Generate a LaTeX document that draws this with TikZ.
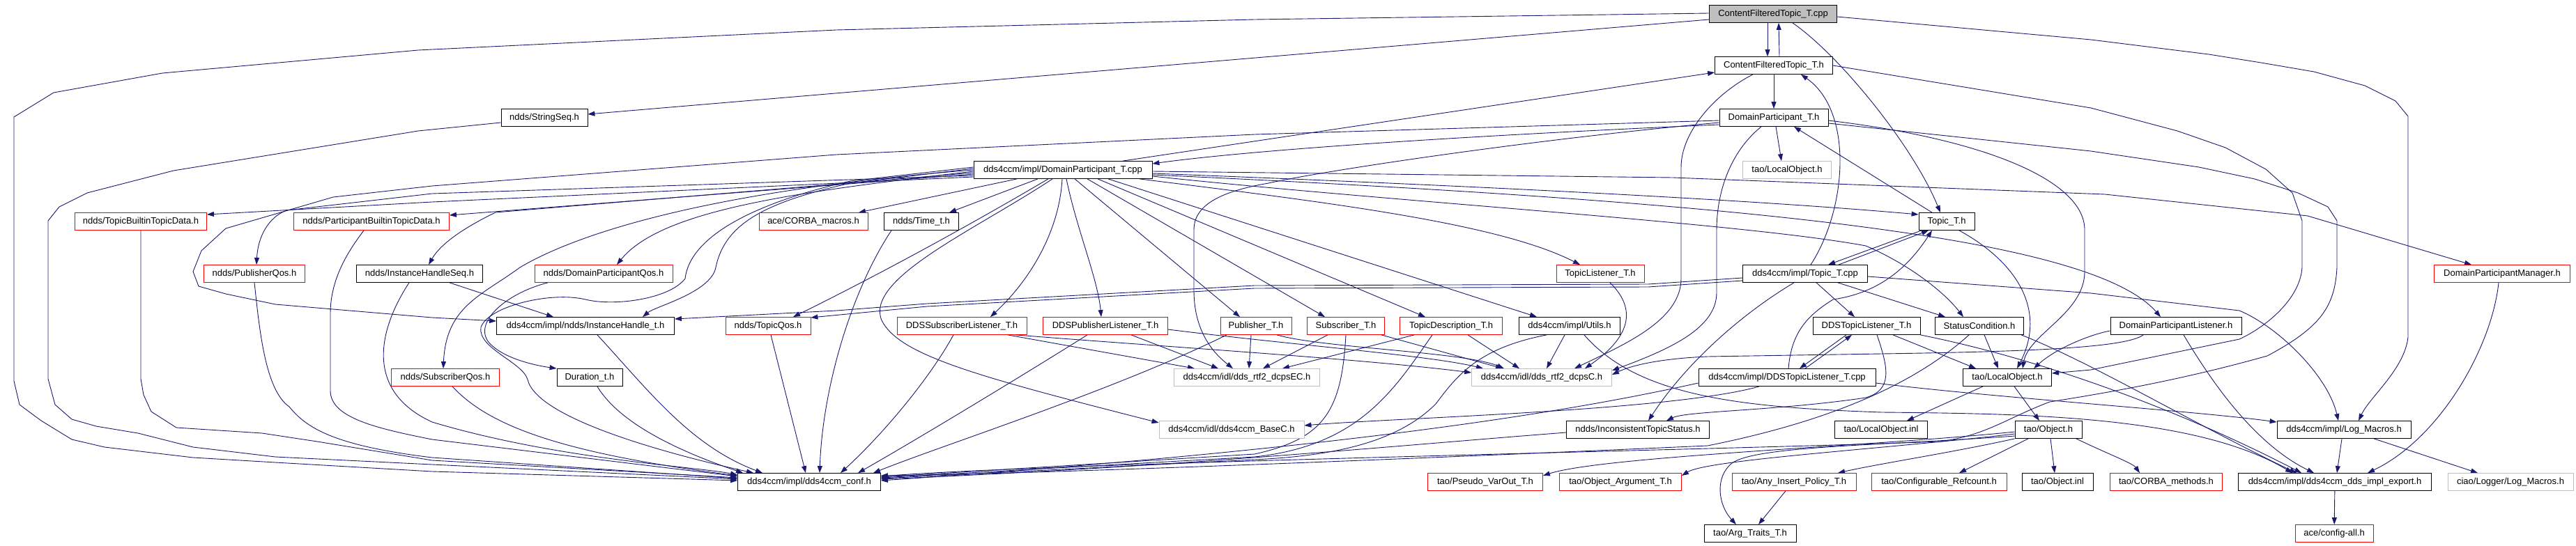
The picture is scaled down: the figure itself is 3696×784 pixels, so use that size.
\documentclass[tikz,border=0pt]{standalone}
\usepackage{fontspec}
\setmainfont{Liberation Sans}
\usetikzlibrary{arrows.meta,backgrounds}
\definecolor{edgec}{RGB}{25,25,112}
\definecolor{grayline}{RGB}{191,191,191}
\definecolor{grayfill}{RGB}{191,191,191}
\begin{document}
\begin{tikzpicture}[x=1pt,y=-1pt,
  box/.style={draw=black, line width=0.8pt, rectangle, minimum height=25pt, inner xsep=3pt, inner ysep=0pt,
     font=\fontsize{13}{15}\selectfont, text=black, fill=white},
  rbox/.style={box, draw=red},
  gbox/.style={box, draw=grayline},
  e/.style={draw=edgec, line width=0.9pt, line join=round, -{Triangle[length=10pt,width=7pt]}}]
\useasboundingbox (0,0) rectangle (3696,784);
% ---------------- nodes
\node[box, fill=grayfill, minimum width=183pt] (CFTcpp) at (2544,20) {ContentFilteredTopic\_T.cpp};
\node[box, minimum width=169pt] (CFTh) at (2545,94) {ContentFilteredTopic\_T.h};
\node[box, minimum width=124pt] (StringSeq) at (781,169) {ndds/StringSeq.h};
\node[box, minimum width=156pt] (DPh) at (2545,169) {DomainParticipant\_T.h};
\node[gbox, minimum width=127pt] (LocalObjG) at (2564,244) {tao/LocalObject.h};
\node[box, minimum width=256pt] (DPcpp) at (1525,244) {dds4ccm/impl/DomainParticipant\_T.cpp};
\node[rbox, minimum width=189pt] (TBTD) at (202,318) {ndds/TopicBuiltinTopicData.h};
\node[rbox, minimum width=223pt] (PBTD) at (533,318) {ndds/ParticipantBuiltinTopicData.h};
\node[rbox, minimum width=156pt] (CORBA) at (1167,318) {ace/CORBA\_macros.h};
\node[box, minimum width=107pt] (Time) at (1322,318) {ndds/Time\_t.h};
\node[box, minimum width=80pt] (Topich) at (2793,318) {Topic\_T.h};
\node[rbox, minimum width=145pt] (PubQos) at (365,393) {ndds/PublisherQos.h};
\node[box, minimum width=181pt] (IHSeq) at (602,393) {ndds/InstanceHandleSeq.h};
\node[rbox, minimum width=198pt] (DPQos) at (866,393) {ndds/DomainParticipantQos.h};
\node[rbox, minimum width=126pt] (TopicListener) at (2296,393) {TopicListener\_T.h};
\node[box, minimum width=179pt] (Topiccpp) at (2590,393) {dds4ccm/impl/Topic\_T.cpp};
\node[rbox, minimum width=195pt] (DPM) at (3590,393) {DomainParticipantManager.h};
\node[box, minimum width=255pt] (IHt) at (840,468) {dds4ccm/impl/ndds/InstanceHandle\_t.h};
\node[rbox, minimum width=122pt] (TopicQos) at (1102,468) {ndds/TopicQos.h};
\node[rbox, minimum width=186pt] (DDSSubL) at (1380,468) {DDSSubscriberListener\_T.h};
\node[rbox, minimum width=179pt] (DDSPubL) at (1586,468) {DDSPublisherListener\_T.h};
\node[rbox, minimum width=102pt] (Publisher) at (1802,468) {Publisher\_T.h};
\node[rbox, minimum width=111pt] (Subscriber) at (1931,468) {Subscriber\_T.h};
\node[rbox, minimum width=147pt] (TopicDesc) at (2082,468) {TopicDescription\_T.h};
\node[box, minimum width=145pt] (Utils) at (2252,468) {dds4ccm/impl/Utils.h};
\node[box, minimum width=154pt] (DDSTopicL) at (2678,468) {DDSTopicListener\_T.h};
\node[box, minimum width=127pt] (StatusCond) at (2840,468) {StatusCondition.h};
\node[box, minimum width=188pt] (DPL) at (3122,468) {DomainParticipantListener.h};
\node[rbox, minimum width=155pt] (SubQos) at (639,542) {ndds/SubscriberQos.h};
\node[box, minimum width=94pt] (Duration) at (846,542) {Duration\_t.h};
\node[gbox, minimum width=209pt] (dcpsEC) at (1789,542) {dds4ccm/idl/dds\_rtf2\_dcpsEC.h};
\node[gbox, minimum width=201pt] (dcpsC) at (2212,542) {dds4ccm/idl/dds\_rtf2\_dcpsC.h};
\node[box, minimum width=254pt] (DDSTopicLcpp) at (2564,542) {dds4ccm/impl/DDSTopicListener\_T.cpp};
\node[box, minimum width=127pt] (LocalObj) at (2880,542) {tao/LocalObject.h};
\node[gbox, minimum width=208pt] (BaseC) at (1767,617) {dds4ccm/idl/dds4ccm\_BaseC.h};
\node[box, minimum width=205pt] (ICS) at (2350,617) {ndds/InconsistentTopicStatus.h};
\node[box, minimum width=133pt] (LocalObjinl) at (2699,617) {tao/LocalObject.inl};
\node[box, minimum width=96pt] (Objecth) at (2939,617) {tao/Object.h};
\node[box, minimum width=192pt] (LogMacros) at (3363,617) {dds4ccm/impl/Log\_Macros.h};
\node[box, minimum width=205pt] (conf) at (1161,692) {dds4ccm/impl/dds4ccm\_conf.h};
\node[rbox, minimum width=165pt] (PseudoVarOut) at (2131,692) {tao/Pseudo\_VarOut\_T.h};
\node[rbox, minimum width=175pt] (ObjArg) at (2325,692) {tao/Object\_Argument\_T.h};
\node[rbox, minimum width=178pt] (AnyInsert) at (2574,692) {tao/Any\_Insert\_Policy\_T.h};
\node[rbox, minimum width=194pt] (ConfRef) at (2782,692) {tao/Configurable\_Refcount.h};
\node[box, minimum width=102pt] (Objectinl) at (2952,692) {tao/Object.inl};
\node[rbox, minimum width=161pt] (CORBAm) at (3108,692) {tao/CORBA\_methods.h};
\node[box, minimum width=277pt] (implexport) at (3350,692) {dds4ccm/impl/dds4ccm\_dds\_impl\_export.h};
\node[gbox, minimum width=180pt] (ciaoLog) at (3602,692) {ciao/Logger/Log\_Macros.h};
\node[box, minimum width=132pt] (ArgTraits) at (2511,766) {tao/Arg\_Traits\_T.h};
\node[rbox, minimum width=112pt] (configall) at (3349,766) {ace/config-all.h};
% ---------------- edges
\begin{pgfonlayer}{background}
% ContentFilteredTopic_T.cpp / .h
\draw[e] ([xshift=-8pt]CFTcpp.south) -- ([xshift=-9pt]CFTh.north);
\draw[e] ([xshift=8pt]CFTh.north) -- ([xshift=8pt]CFTcpp.south);
\draw[e] (CFTh) -- (DPh);
\draw[e] ([xshift=28pt]CFTcpp.south) .. controls (2640,80) and (2745,210) .. ([xshift=-9pt]Topich.north);
\draw[e] ([yshift=-8pt]CFTcpp.west) -- ([yshift=5pt]StringSeq.east);
\draw[e] ([yshift=1pt]CFTcpp.west) -- (1800,28) -- (1200,43) -- (600,72) -- (233,105) -- (77,133) -- (20,168) -- (20,547) -- (28,581) -- (59,604) -- (103,631) -- (150,642) -- (277,657) -- (395,664) -- (620,677) -- ([yshift=2pt]conf.west);
\draw[e] ([yshift=-4pt]CFTcpp.east) -- (3000,57) -- (3169,78) -- (3244,90) -- (3320,103) -- (3393,123) -- (3437,145) -- (3455,167) -- (3455,484) .. controls (3450,530) and (3400,570) .. ([xshift=21pt]LogMacros.north);
\draw[e] ([xshift=-30pt]CFTh.south) .. controls (2460,135) and (2412,190) .. (2412,240) -- (2412,400) .. controls (2412,460) and (2330,495) .. ([xshift=47pt]dcpsC.north);
\draw[e] (CFTh.east) -- (3000,155) -- (3124,188) -- (3193,212) -- (3251,243) -- (3289,277) -- (3303,317) -- (3303,384) .. controls (3300,430) and (3250,470) .. (3213,487) -- (3000,531) -- ([yshift=6pt]LocalObj.east);
% StringSeq
\draw[e] ([yshift=-7pt]StringSeq.west) -- (600,188) -- (249,245) -- (125,277) -- (85,297) -- (69,317) -- (69,544) -- (79,581) -- (103,602) -- (138,612) -- (198,622) -- (277,642) -- (395,656) -- (620,667) -- ([yshift=4pt]conf.west);
% DomainParticipant_T.h
\draw[e] ([yshift=-4pt]DPh.west) -- (1800,193) -- (1200,222) -- (620,267) -- (478,283) -- (324,328) -- (289,360) -- (277,390) -- (285,411) -- (324,422) -- (395,437) -- (620,456) -- ([yshift=7pt]IHt.west);
\draw[e] ([yshift=-10pt]DPh.west) .. controls (2100,195) and (1800,215) .. ([yshift=9pt]DPcpp.east);
\draw[e] ([yshift=-7pt]DPh.west) .. controls (2200,200) and (1900,245) .. (1820,263) .. controls (1750,275) and (1713,295) .. (1713,330) -- (1713,417) .. controls (1713,480) and (1745,510) .. ([xshift=-20pt]dcpsEC.north);
\draw[e] ([xshift=3pt]DPh.south) -- ([xshift=-8pt]LocalObjG.north);
\draw[e] ([xshift=-18pt]DPh.south) .. controls (2480,220) and (2463,280) .. (2463,330) -- (2463,420) .. controls (2463,470) and (2400,500) .. ([yshift=10pt]dcpsC.east);
\draw[e] ([yshift=-4pt]DPh.east) .. controls (2850,200) and (2991,260) .. (2991,330) -- (2991,390) .. controls (2991,450) and (2910,480) .. ([xshift=22pt]LocalObj.north);
\draw[e] ([yshift=-8pt]DPh.east) -- (3000,217) -- (3155,240) -- (3235,257) -- (3297,277) -- (3340,297) -- (3353,317) -- (3353,384) .. controls (3350,440) and (3330,470) .. (3253,511) .. controls (3150,540) and (3050,560) .. (2941,577) .. controls (2880,600) and (2850,625) .. (2784,634) .. controls (2500,645) and (1500,665) .. ([yshift=8pt]conf.east);
% Topic_T.h
\draw[e] ([xshift=-21pt]Topich.north) -- ([xshift=29pt]DPh.south);
\draw[e] ([xshift=-36pt]Topich.south) -- ([xshift=33pt]Topiccpp.north);
\draw[e] ([xshift=18pt]Topich.south) .. controls (2900,380) and (2935,450) .. ([xshift=14pt]LocalObj.north);
% Topic_T.cpp
\draw[e] ([xshift=48pt]Topiccpp.north) -- ([xshift=-26pt]Topich.south);
\draw[e] ([xshift=8pt]Topiccpp.north) .. controls (2650,300) and (2660,160) .. ([xshift=39pt]CFTh.south);
\draw[e] ([xshift=16pt]Topiccpp.south) -- ([xshift=-17pt]DDSTopicL.north);
\draw[e] ([xshift=47pt]Topiccpp.south) -- ([xshift=-49pt]StatusCond.north);
\draw[e] ([yshift=-6pt]Topiccpp.west) -- (2365,408) -- (1800,410) -- (1330,436) -- (1200,446) -- ([yshift=10pt]IHt.east);
\draw[e] ([yshift=-10pt]Topiccpp.west) -- (2365,412) -- (1800,414) -- (1330,440) -- ([yshift=12pt]TopicQos.east);
\draw[e] ([yshift=-4pt]Topiccpp.east) -- (3000,421) -- (3213,446) .. controls (3270,470) and (3340,540) .. ([xshift=-8pt]LogMacros.north);
\draw[e] ([xshift=-16pt]Topiccpp.south) .. controls (2500,450) and (2420,520) .. ([xshift=15pt]ICS.north);
% DomainParticipant_T.cpp
\draw[e] ([xshift=86pt]DPcpp.north) -- ([yshift=-10pt]CFTh.west);
\draw[e] ([yshift=-5pt]DPcpp.east) .. controls (2200,270) and (2550,290) .. ([yshift=10pt]Topich.west);
\draw[e] ([yshift=-2pt]DPcpp.east) -- (2400,255) -- (3020,279) -- (3311,310) -- ([xshift=-44pt]DPM.north);
\draw[e] ([yshift=-9pt]DPcpp.east) .. controls (2000,290) and (2500,320) .. (2677,353) .. controls (2740,380) and (2790,420) .. ([xshift=-23pt]StatusCond.north);
\draw[e] ([yshift=-7pt]DPcpp.east) .. controls (2500,290) and (3000,340) .. ([xshift=-22pt]DPL.north);
\draw[e] ([yshift=-10pt]DPcpp.west) -- (620,290) -- ([yshift=10pt]TBTD.east);
\draw[e] ([yshift=-6pt]DPcpp.west) -- ([yshift=9pt]PBTD.east);
\draw[e] ([yshift=-8pt]DPcpp.west) -- (620,278) -- (411,302) .. controls (385,312) and (370,340) .. ([xshift=3pt]PubQos.north);
\draw[e] ([yshift=-4pt]DPcpp.west) -- (711,305) .. controls (680,320) and (635,345) .. ([xshift=13pt]IHSeq.north);
\draw[e] ([yshift=-2pt]DPcpp.west) .. controls (1150,275) and (950,300) .. ([xshift=19pt]DPQos.north);
\draw[e] (DPcpp.west) .. controls (1000,275) and (820,340) .. (746,384) .. controls (690,425) and (640,440) .. ([xshift=-3pt]SubQos.north);
\draw[e] ([yshift=2pt]DPcpp.west) -- (1220,263) .. controls (1100,290) and (1040,320) .. (1027,384) .. controls (1020,420) and (940,440) .. ([xshift=82pt]IHt.north);
\draw[e] ([yshift=4pt]DPcpp.west) -- (1220,260) .. controls (1080,292) and (990,340) .. (983,400) .. controls (960,430) and (880,440) .. (840,430) .. controls (790,418) and (700,440) .. (690,470) .. controls (685,500) and (750,520) .. (757,545) .. controls (770,600) and (950,650) .. ([xshift=-80pt]conf.north);
\draw[e] ([xshift=-21pt]DPcpp.south) .. controls (1380,330) and (1250,400) .. ([xshift=36pt]TopicQos.north);
\draw[e] ([xshift=-15pt]DPcpp.south) .. controls (1400,330) and (1240,400) .. (1265,460) .. controls (1290,510) and (1400,540) .. ([yshift=10pt]BaseC.west);
\draw[e] ([xshift=-66pt]DPcpp.south) -- ([xshift=65pt]CORBA.north);
\draw[e] ([xshift=-36pt]DPcpp.south) -- ([xshift=40pt]Time.north);
\draw[e] ([xshift=-1pt]DPcpp.south) .. controls (1520,330) and (1480,400) .. ([xshift=41pt]DDSSubL.north);
\draw[e] ([xshift=5pt]DPcpp.south) .. controls (1545,330) and (1575,400) .. ([xshift=-6pt]DDSPubL.north);
\draw[e] ([xshift=17pt]DPcpp.south) -- ([xshift=-23pt]Publisher.north);
\draw[e] ([xshift=35pt]DPcpp.south) -- ([xshift=-30pt]Subscriber.north);
\draw[e] ([xshift=50pt]DPcpp.south) -- ([xshift=-37pt]TopicDesc.north);
\draw[e] ([xshift=65pt]DPcpp.south) -- ([xshift=-47pt]Utils.north);
\draw[e] ([xshift=110pt]DPcpp.south) .. controls (1900,290) and (2150,320) .. ([xshift=-29pt]TopicListener.north);
% qos / left column
\draw[e] ([xshift=-80pt]DPQos.south) .. controls (730,420) and (680,460) .. (700,490) .. controls (720,515) and (770,525) .. (Duration.north west);
\draw[e] ([xshift=43pt]IHSeq.south) -- ([xshift=-46pt]IHt.north);
\draw[e] ([xshift=-15pt]IHSeq.south) .. controls (545,470) and (520,560) .. (620,606) .. controls (800,660) and (1000,670) .. ([yshift=10pt]conf.west);
\draw[e] (TBTD.south) -- (202,544) -- (206,567) -- (217,591) -- (253,614) -- (376,622) -- (455,634) -- (620,661) -- ([yshift=6pt]conf.west);
\draw[e] ([xshift=-11pt]PBTD.south) .. controls (500,360) and (474,400) .. (474,450) -- (474,561) .. controls (474,600) and (540,615) .. (620,631) -- ([yshift=8pt]conf.west);
\draw[e] (PubQos.south) .. controls (372,470) and (380,560) .. (415,584) .. controls (440,615) and (480,640) .. (620,657) -- ([yshift=5pt]conf.west);
\draw[e] ([xshift=17pt]IHt.south) .. controls (930,560) and (990,640) .. ([xshift=-67pt]conf.north);
\draw[e] ([xshift=4pt]TopicQos.south) -- ([xshift=-5pt]conf.north);
\draw[e] ([xshift=11pt]Duration.south) .. controls (890,610) and (980,650) .. ([xshift=-95pt]conf.north);
\draw[e] ([xshift=10pt]SubQos.south) .. controls (700,610) and (800,650) .. ([yshift=9pt]conf.west);
\draw[e] ([xshift=-43pt]Time.south) .. controls (1220,420) and (1180,560) .. ([xshift=15pt]conf.north);
% listeners / entities
\draw[e] ([xshift=-12pt]DDSSubL.south) .. controls (1330,550) and (1260,630) .. ([xshift=45pt]conf.north);
\draw[e] ([xshift=-26pt]DDSPubL.south) .. controls (1450,550) and (1300,640) .. ([xshift=70pt]conf.north);
\draw[e] ([xshift=-42pt]Publisher.south) .. controls (1600,560) and (1350,640) .. ([xshift=92pt]conf.north);
\draw[e] (Subscriber.south) .. controls (1925,590) and (1900,630) .. (1800,652) -- ([yshift=7pt]conf.east);
\draw[e] ([xshift=-27pt]TopicDesc.south) .. controls (2000,560) and (1950,640) .. (1800,656) -- ([yshift=6pt]conf.east);
\draw[e] ([xshift=-33pt]Utils.south) .. controls (2120,500) and (2090,540) .. (2060,580) .. controls (2000,640) and (1900,655) .. (1800,660) -- ([yshift=5pt]conf.east);
\draw[e] ([yshift=-4pt]ICS.west) .. controls (2000,640) and (1700,670) .. ([yshift=4pt]conf.east);
\draw[e] ([xshift=66pt]DDSSubL.south) -- ([xshift=-75pt]dcpsEC.north);
\draw[e] ([xshift=77pt]DDSSubL.south) .. controls (1700,500) and (1950,515) .. ([yshift=7pt]dcpsC.west);
\draw[e] ([xshift=37pt]DDSPubL.south) -- ([xshift=-41pt]dcpsEC.north);
\draw[e] ([yshift=-5pt]DDSPubL.east) .. controls (1850,495) and (2050,510) .. ([xshift=-84pt]dcpsC.north);
\draw[e] ([xshift=-7pt]Publisher.south) -- ([xshift=3pt]dcpsEC.north);
\draw[e] ([xshift=30pt]Publisher.south) .. controls (1900,500) and (2100,505) .. ([xshift=-54pt]dcpsC.north);
\draw[e] ([xshift=-26pt]Subscriber.south) -- ([xshift=23pt]dcpsEC.north);
\draw[e] ([xshift=51pt]Subscriber.south) -- ([xshift=-56pt]dcpsC.north);
\draw[e] ([xshift=-53pt]TopicDesc.south) -- ([xshift=51pt]dcpsEC.north);
\draw[e] ([xshift=24pt]TopicDesc.south) -- ([xshift=-32pt]dcpsC.north);
\draw[e] ([xshift=-7pt]Utils.south) -- ([xshift=7pt]dcpsC.north);
\draw[e] ([xshift=21pt]Utils.south) .. controls (2350,570) and (2500,585) .. (2700,592) .. controls (2900,594) and (3150,596) .. ([xshift=-61pt]implexport.north);
\draw[e] ([xshift=14pt]TopicListener.south) .. controls (2345,440) and (2345,480) .. ([xshift=62pt]dcpsC.north);
% DDSTopicListener
\draw[e] ([xshift=-29pt]DDSTopicL.south) -- ([xshift=18pt]DDSTopicLcpp.north);
\draw[e] ([xshift=26pt]DDSTopicLcpp.north) -- ([xshift=-21pt]DDSTopicL.south);
\draw[e] ([xshift=38pt]DDSTopicL.south) -- ([xshift=-45pt]LocalObj.north);
\draw[e] (DDSTopicL.south east) .. controls (2950,520) and (3150,600) .. ([xshift=-48pt]implexport.north);
\draw[e] ([xshift=15pt]DDSTopicL.south) .. controls (2710,530) and (2715,560) .. (2677,571) .. controls (2550,590) and (2420,590) .. ([xshift=41pt]ICS.north);
\draw[e] ([xshift=2pt]DDSTopicLcpp.north) .. controls (2570,480) and (2590,455) .. (2630,430) .. controls (2700,420) and (2740,380) .. ([xshift=-21pt]Topich.south);
\draw[e] ([xshift=-40pt]DDSTopicLcpp.south) .. controls (2400,590) and (2000,600) .. ([yshift=6pt]BaseC.east);
\draw[e] ([yshift=-8pt]DDSTopicLcpp.east) .. controls (2850,570) and (3150,590) .. ([yshift=11pt]LogMacros.west);
\draw[e] ([yshift=-8pt]DDSTopicLcpp.west) .. controls (2300,580) and (2000,640) .. ([yshift=2pt]conf.east);
% StatusCondition / DomainParticipantListener
\draw[e] ([xshift=7pt]StatusCond.south) -- ([xshift=-13pt]LocalObj.north);
\draw[e] ([xshift=-15pt]StatusCond.south) .. controls (2760,540) and (2650,600) .. (2450,640) .. controls (2000,660) and (1500,680) .. ([yshift=9pt]conf.east);
\draw[e] ([xshift=60pt]StatusCond.south) .. controls (3000,520) and (3150,610) .. ([xshift=-55pt]implexport.north);
\draw[e] ([yshift=-7pt]DPL.west) .. controls (3000,480) and (2950,500) .. ([xshift=38pt]LocalObj.north);
\draw[e] ([xshift=-47pt]DPL.south) .. controls (3050,500) and (2900,505) .. (2700,508) -- (2450,512) .. controls (2380,515) and (2340,525) .. ([yshift=4pt]dcpsC.east);
\draw[e] ([xshift=11pt]DPL.south) .. controls (3180,560) and (3240,640) .. ([xshift=-30pt]implexport.north);
% tao
\draw[e] ([xshift=-35pt]LocalObj.south) -- ([xshift=37pt]LocalObjinl.north);
\draw[e] ([xshift=10pt]LocalObj.south) -- ([xshift=-13pt]Objecth.north);
\draw[e] ([xshift=3pt]Objecth.south) -- ([xshift=-4pt]Objectinl.north);
\draw[e] ([xshift=-29pt]Objecth.south) -- ([xshift=29pt]ConfRef.north);
\draw[e] (Objecth.south west) .. controls (2800,650) and (2700,665) .. ([xshift=63pt]AnyInsert.north);
\draw[e] ([yshift=-3pt]Objecth.west) .. controls (2700,640) and (2300,655) .. ([yshift=9pt]PseudoVarOut.east);
\draw[e] ([yshift=-6pt]Objecth.west) .. controls (2700,645) and (2450,660) .. ([yshift=9pt]ObjArg.east);
\draw[e] ([yshift=-9pt]Objecth.west) .. controls (2700,640) and (2520,640) .. (2485,665) .. controls (2460,685) and (2465,725) .. ([xshift=-20pt]ArgTraits.north);
\draw[e] ([xshift=40pt]Objecth.south) .. controls (3020,650) and (3060,665) .. ([xshift=-38pt]CORBAm.north);
\draw[e] ([xshift=-12pt]AnyInsert.south) -- ([xshift=12pt]ArgTraits.north);
% logging / export
\draw[e] ([xshift=-3pt]LogMacros.south) -- ([xshift=3pt]implexport.north);
\draw[e] ([xshift=43pt]LogMacros.south) -- ([xshift=-47pt]ciaoLog.north);
\draw[e] ([xshift=-5pt]DPM.south) .. controls (3575,500) and (3500,630) .. ([xshift=47pt]implexport.north);
\draw[e] (implexport) -- (configall);
\end{pgfonlayer}
\end{tikzpicture}
\end{document}
